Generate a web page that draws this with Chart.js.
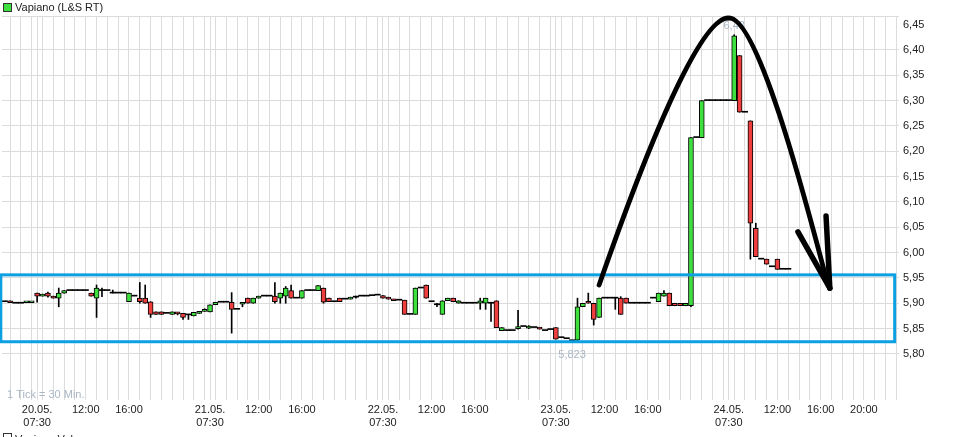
<!DOCTYPE html>
<html>
<head>
<meta charset="utf-8">
<script src="https://cdn.jsdelivr.net/npm/chart.js@4.4.1/dist/chart.umd.min.js"></script>
<style>
  html, body { margin: 0; padding: 0; background: #fff; }
  #wrap { width: 959px; height: 437px; }
</style>
</head>
<body>
<div id="wrap"><canvas id="chart"></canvas></div>
<script>
// days shown, first one only partly (20:30 - 23:00)
const days = ['19.05.', '20.05.', '21.05.', '22.05.', '23.05.', '24.05.'];
const labelTimes = ['12:00', '16:00'];
const lastDayExtra = '20:00';

// 30 min candles, L&S trading 07:30 - 23:00
const opens = [
  5.903, 5.905, 5.900, 5.900, 5.901, 5.901, 5.920, 5.914, 5.920, 5.914,
  5.910, 5.920, 5.925, 5.925, 5.925, 5.925, 5.920, 5.910, 5.925, 5.925,
  5.920, 5.920, 5.920, 5.903, 5.914, 5.910, 5.910, 5.903, 5.883, 5.883,
  5.880, 5.878, 5.881, 5.880, 5.877, 5.875, 5.880, 5.884, 5.883, 5.897,
  5.902, 5.902, 5.902, 5.888, 5.898, 5.910, 5.900, 5.910, 5.914, 5.914,
  5.914, 5.910, 5.914, 5.925, 5.910, 5.910, 5.925, 5.925, 5.925, 5.930,
  5.910, 5.903, 5.910, 5.908, 5.908, 5.912, 5.914, 5.914, 5.915, 5.916,
  5.915, 5.912, 5.908, 5.906, 5.906, 5.878, 5.878, 5.930, 5.936, 5.903,
  5.897, 5.878, 5.905, 5.910, 5.900, 5.900, 5.900, 5.900, 5.900, 5.900,
  5.900, 5.905, 5.846, 5.846, 5.846, 5.850, 5.854, 5.851, 5.852, 5.852,
  5.846, 5.848, 5.852, 5.832, 5.830, 5.826, 5.827, 5.893, 5.904, 5.900,
  5.872, 5.910, 5.910, 5.910, 5.910, 5.910, 5.900, 5.900, 5.900, 5.900,
  5.910, 5.903, 5.914, 5.920, 5.900, 5.900, 5.895, 5.895, 6.227, 6.227,
  6.300, 6.300, 6.300, 6.300, 6.300, 6.300, 6.389, 6.277, 6.260, 6.048,
  5.987, 5.987, 5.972, 5.987, 5.967, 5.967
];
const highs = [
  5.903, 5.905, 5.900, 5.900, 5.902, 5.902, 5.920, 5.918, 5.922, 5.914,
  5.930, 5.925, 5.925, 5.925, 5.925, 5.925, 5.920, 5.936, 5.930, 5.925,
  5.926, 5.920, 5.920, 5.920, 5.914, 5.941, 5.936, 5.903, 5.883, 5.883,
  5.880, 5.883, 5.882, 5.880, 5.877, 5.882, 5.883, 5.889, 5.897, 5.902,
  5.902, 5.902, 5.921, 5.888, 5.900, 5.910, 5.910, 5.914, 5.914, 5.914,
  5.941, 5.920, 5.933, 5.936, 5.910, 5.925, 5.925, 5.925, 5.935, 5.930,
  5.910, 5.903, 5.910, 5.908, 5.912, 5.914, 5.914, 5.914, 5.915, 5.916,
  5.915, 5.912, 5.908, 5.906, 5.906, 5.878, 5.930, 5.930, 5.936, 5.903,
  5.900, 5.905, 5.910, 5.910, 5.905, 5.900, 5.900, 5.900, 5.910, 5.910,
  5.900, 5.905, 5.852, 5.846, 5.846, 5.886, 5.854, 5.856, 5.852, 5.852,
  5.846, 5.848, 5.852, 5.832, 5.830, 5.826, 5.910, 5.900, 5.920, 5.900,
  5.910, 5.910, 5.910, 5.910, 5.913, 5.910, 5.900, 5.900, 5.900, 5.900,
  5.910, 5.920, 5.925, 5.920, 5.900, 5.900, 5.900, 6.227, 6.227, 6.300,
  6.300, 6.300, 6.300, 6.300, 6.300, 6.430, 6.389, 6.277, 6.260, 6.058,
  5.987, 5.987, 5.972, 5.987, 5.967, 5.967
];
const lows = [
  5.903, 5.901, 5.900, 5.900, 5.901, 5.901, 5.902, 5.914, 5.912, 5.910,
  5.893, 5.920, 5.925, 5.925, 5.925, 5.925, 5.914, 5.872, 5.913, 5.925,
  5.920, 5.920, 5.920, 5.903, 5.914, 5.900, 5.900, 5.872, 5.878, 5.878,
  5.880, 5.878, 5.877, 5.868, 5.868, 5.875, 5.880, 5.884, 5.883, 5.897,
  5.902, 5.902, 5.841, 5.888, 5.893, 5.900, 5.900, 5.910, 5.914, 5.914,
  5.900, 5.900, 5.900, 5.910, 5.910, 5.910, 5.925, 5.925, 5.925, 5.900,
  5.903, 5.903, 5.903, 5.908, 5.908, 5.910, 5.914, 5.914, 5.915, 5.916,
  5.910, 5.908, 5.905, 5.906, 5.878, 5.878, 5.878, 5.930, 5.910, 5.903,
  5.893, 5.878, 5.905, 5.903, 5.900, 5.900, 5.900, 5.900, 5.888, 5.888,
  5.864, 5.852, 5.846, 5.846, 5.846, 5.849, 5.854, 5.850, 5.852, 5.849,
  5.846, 5.848, 5.829, 5.832, 5.830, 5.823, 5.826, 5.893, 5.900, 5.857,
  5.872, 5.910, 5.910, 5.888, 5.878, 5.900, 5.900, 5.900, 5.900, 5.900,
  5.910, 5.903, 5.914, 5.895, 5.895, 5.895, 5.895, 5.893, 6.227, 6.227,
  6.300, 6.300, 6.300, 6.300, 6.300, 6.300, 6.277, 6.277, 5.987, 5.992,
  5.987, 5.977, 5.972, 5.967, 5.967, 5.967
];
const closes = [
  5.903, 5.901, 5.900, 5.900, 5.902, 5.902, 5.914, 5.918, 5.914, 5.910,
  5.920, 5.925, 5.925, 5.925, 5.925, 5.925, 5.914, 5.930, 5.925, 5.925,
  5.920, 5.920, 5.920, 5.920, 5.914, 5.903, 5.900, 5.878, 5.878, 5.878,
  5.880, 5.883, 5.879, 5.872, 5.877, 5.882, 5.883, 5.888, 5.897, 5.902,
  5.902, 5.902, 5.888, 5.888, 5.900, 5.900, 5.910, 5.914, 5.914, 5.914,
  5.903, 5.920, 5.930, 5.910, 5.910, 5.925, 5.925, 5.925, 5.935, 5.902,
  5.903, 5.903, 5.903, 5.908, 5.912, 5.912, 5.914, 5.914, 5.915, 5.916,
  5.910, 5.908, 5.905, 5.906, 5.878, 5.878, 5.930, 5.930, 5.910, 5.903,
  5.897, 5.905, 5.910, 5.903, 5.905, 5.900, 5.900, 5.900, 5.905, 5.910,
  5.900, 5.852, 5.852, 5.846, 5.846, 5.852, 5.854, 5.855, 5.852, 5.849,
  5.846, 5.848, 5.829, 5.832, 5.830, 5.826, 5.893, 5.900, 5.900, 5.868,
  5.910, 5.910, 5.910, 5.910, 5.878, 5.900, 5.900, 5.900, 5.900, 5.900,
  5.910, 5.920, 5.920, 5.895, 5.895, 5.895, 5.900, 6.227, 6.227, 6.300,
  6.300, 6.300, 6.300, 6.300, 6.300, 6.428, 6.277, 6.277, 6.058, 5.992,
  5.987, 5.977, 5.972, 5.967, 5.967, 5.967
];

const yTicks = [5.80, 5.85, 5.90, 5.95, 6.00, 6.05, 6.10, 6.15, 6.20, 6.25, 6.30, 6.35, 6.40, 6.45];
const yMin = 5.709, yMax = 6.467;

// hand drawn marks: [slot index, price]
const boxSlots = [-0.72, 164.7];
const boxPrices = [5.956, 5.824];
const arcLeft = [[110.0, 5.936], [118.4, 6.193], [128.6, 6.467], [134.0, 6.463]];
const arcRight = [[134.0, 6.463], [139.7, 6.467], [149.5, 6.049], [152.3, 5.938]];
const arrowTip = [152.7, 5.930];
const arrowBarbs = [[146.8, 6.041], [152.0, 6.072]];

const green = '#3ee03e';
const red = '#ee3e3e';
const gridColor = '#dcdcdc';
const font = "'Liberation Sans', Arial, sans-serif";

const dayTimes = [];
for (let m = 450; m <= 1380; m += 30) {
  dayTimes.push(String(Math.floor(m / 60)).padStart(2, '0') + ':' + (m % 60 ? '30' : '00'));
}
const slots = [];
days.forEach((d, i) => (i === 0 ? dayTimes.slice(-6) : dayTimes).forEach(t => slots.push(d + ' ' + t)));

function tickText(i) {
  const [day, time] = slots[i].split(' ');
  if (time === '07:30' && day !== days[0]) return [day, time];
  if (labelTimes.includes(time)) return time;
  if (time === lastDayExtra && day === days[days.length - 1]) return time;
  return '';
}
function hasGrid(i) {
  const time = slots[i].split(' ')[1];
  return time.endsWith(':00') || (time === '07:30' && i > 0);
}
const fmt = v => String(v).replace('.', ',');

const bodies = opens.map((o, i) => o === closes[i] ? null : [Math.min(o, closes[i]), Math.max(o, closes[i])]);
const flats = opens.map((o, i) => o === closes[i] ? [o, o] : null);
const wicks = highs.map((h, i) => h > lows[i] ? [lows[i], h] : null);

const extras = {
  id: 'extras',
  beforeDatasetsDraw(chart) {
    const { ctx, chartArea: a } = chart;
    ctx.save();
    ctx.strokeStyle = gridColor;
    ctx.lineWidth = 1;
    ctx.beginPath();
    ctx.moveTo(a.left, a.top + 0.5);
    ctx.lineTo(a.right, a.top + 0.5);
    ctx.stroke();
    ctx.restore();
  },
  afterDatasetsDraw(chart) {
    const { ctx, chartArea: a, scales: { x, y } } = chart;
    const px = p => [x.getPixelForValue(p[0]), y.getPixelForValue(p[1])];
    ctx.save();
    ctx.font = '11px ' + font;
    ctx.fillStyle = '#a9b6c3';
    const hi = Math.max(...highs), lo = Math.min(...lows);
    ctx.textAlign = 'center';
    ctx.textBaseline = 'bottom';
    ctx.fillText(fmt(hi), x.getPixelForValue(highs.indexOf(hi)), y.getPixelForValue(hi) - 3);
    ctx.textBaseline = 'top';
    ctx.fillText(fmt(lo), x.getPixelForValue(lows.indexOf(lo)), y.getPixelForValue(lo) + 7);
    ctx.textAlign = 'left';
    ctx.textBaseline = 'alphabetic';
    ctx.fillText('1 Tick = 30 Min.', a.left + 5, a.bottom - 2);

    // blue box
    const [bx1, by1] = px([boxSlots[0], boxPrices[0]]);
    const [bx2, by2] = px([boxSlots[1], boxPrices[1]]);
    ctx.strokeStyle = '#0ba0e2';
    ctx.lineWidth = 3;
    ctx.strokeRect(bx1, by1, bx2 - bx1, by2 - by1);

    // arc with arrow
    ctx.strokeStyle = '#000';
    ctx.lineWidth = 4.8;
    ctx.lineCap = 'round';
    ctx.lineJoin = 'round';
    ctx.beginPath();
    ctx.moveTo(...px(arcLeft[0]));
    ctx.bezierCurveTo(...px(arcLeft[1]), ...px(arcLeft[2]), ...px(arcLeft[3]));
    ctx.bezierCurveTo(...px(arcRight[1]), ...px(arcRight[2]), ...px(arcRight[3]));
    ctx.lineTo(...px(arrowTip));
    ctx.stroke();
    ctx.lineWidth = 5.5;
    arrowBarbs.forEach(b => {
      ctx.beginPath();
      ctx.moveTo(...px(b));
      ctx.lineTo(...px(arrowTip));
      ctx.stroke();
    });
    ctx.restore();
  },
  afterDraw(chart) {
    const ctx = chart.ctx;
    ctx.save();
    ctx.font = '11px ' + font;
    ctx.textBaseline = 'middle';
    ctx.fillStyle = green;
    ctx.strokeStyle = '#333';
    ctx.lineWidth = 1;
    ctx.fillRect(3.5, 3.5, 8, 8);
    ctx.strokeRect(3.5, 3.5, 8, 8);
    ctx.fillStyle = '#222';
    ctx.fillText('Vapiano (L&S RT)', 15, 7.5);
    // second legend row, cut off at the bottom
    ctx.fillStyle = '#fff';
    ctx.fillRect(3.5, 433.5, 8, 8);
    ctx.strokeRect(3.5, 433.5, 8, 8);
    ctx.fillStyle = '#222';
    ctx.fillText('Vapiano Volumen', 15, 439.5);
    ctx.restore();
  }
};

Chart.defaults.font.family = font;
Chart.defaults.font.size = 11;
Chart.defaults.color = '#222';

new Chart(document.getElementById('chart'), {
  type: 'bar',
  data: {
    labels: slots,
    datasets: [
      {
        label: 'body',
        data: bodies,
        backgroundColor: closes.map((c, i) => c > opens[i] ? green : red),
        borderColor: '#000',
        borderWidth: 1,
        borderSkipped: false,
        barThickness: 5,
        minBarLength: 2,
        grouped: false,
        order: 0
      },
      {
        label: 'flat',
        data: flats,
        backgroundColor: '#000',
        barPercentage: 1,
        categoryPercentage: 1,
        minBarLength: 1,
        grouped: false,
        order: 1
      },
      {
        label: 'wick',
        data: wicks,
        backgroundColor: '#000',
        barThickness: 1,
        grouped: false,
        order: 2
      }
    ]
  },
  options: {
    responsive: true,
    maintainAspectRatio: false,
    animation: false,
    layout: { padding: { top: 16, left: 2, right: 0, bottom: 0 } },
    plugins: { legend: { display: false }, tooltip: { enabled: false } },
    scales: {
      x: {
        offset: true,
        grid: {
          offset: false,
          drawTicks: false,
          color: c => hasGrid(c.index) ? gridColor : 'rgba(0,0,0,0)'
        },
        border: { display: false },
        ticks: {
          autoSkip: false,
          maxRotation: 0,
          minRotation: 0,
          padding: 3,
          callback: (v, i) => tickText(i)
        },
        afterFit: s => { s.height = 37; }
      },
      y: {
        position: 'right',
        min: yMin,
        max: yMax,
        afterBuildTicks: s => { s.ticks = yTicks.map(v => ({ value: v })); },
        grid: {
          drawTicks: false,
          color: c => c.tick && c.tick.value === 6.45 ? 'rgba(0,0,0,0)' : gridColor
        },
        border: { display: false },
        ticks: {
          padding: 4,
          callback: v => v.toFixed(2).replace('.', ',')
        },
        afterFit: s => { s.width = 60; }
      }
    }
  },
  plugins: [extras]
});
</script>
</body>
</html>
